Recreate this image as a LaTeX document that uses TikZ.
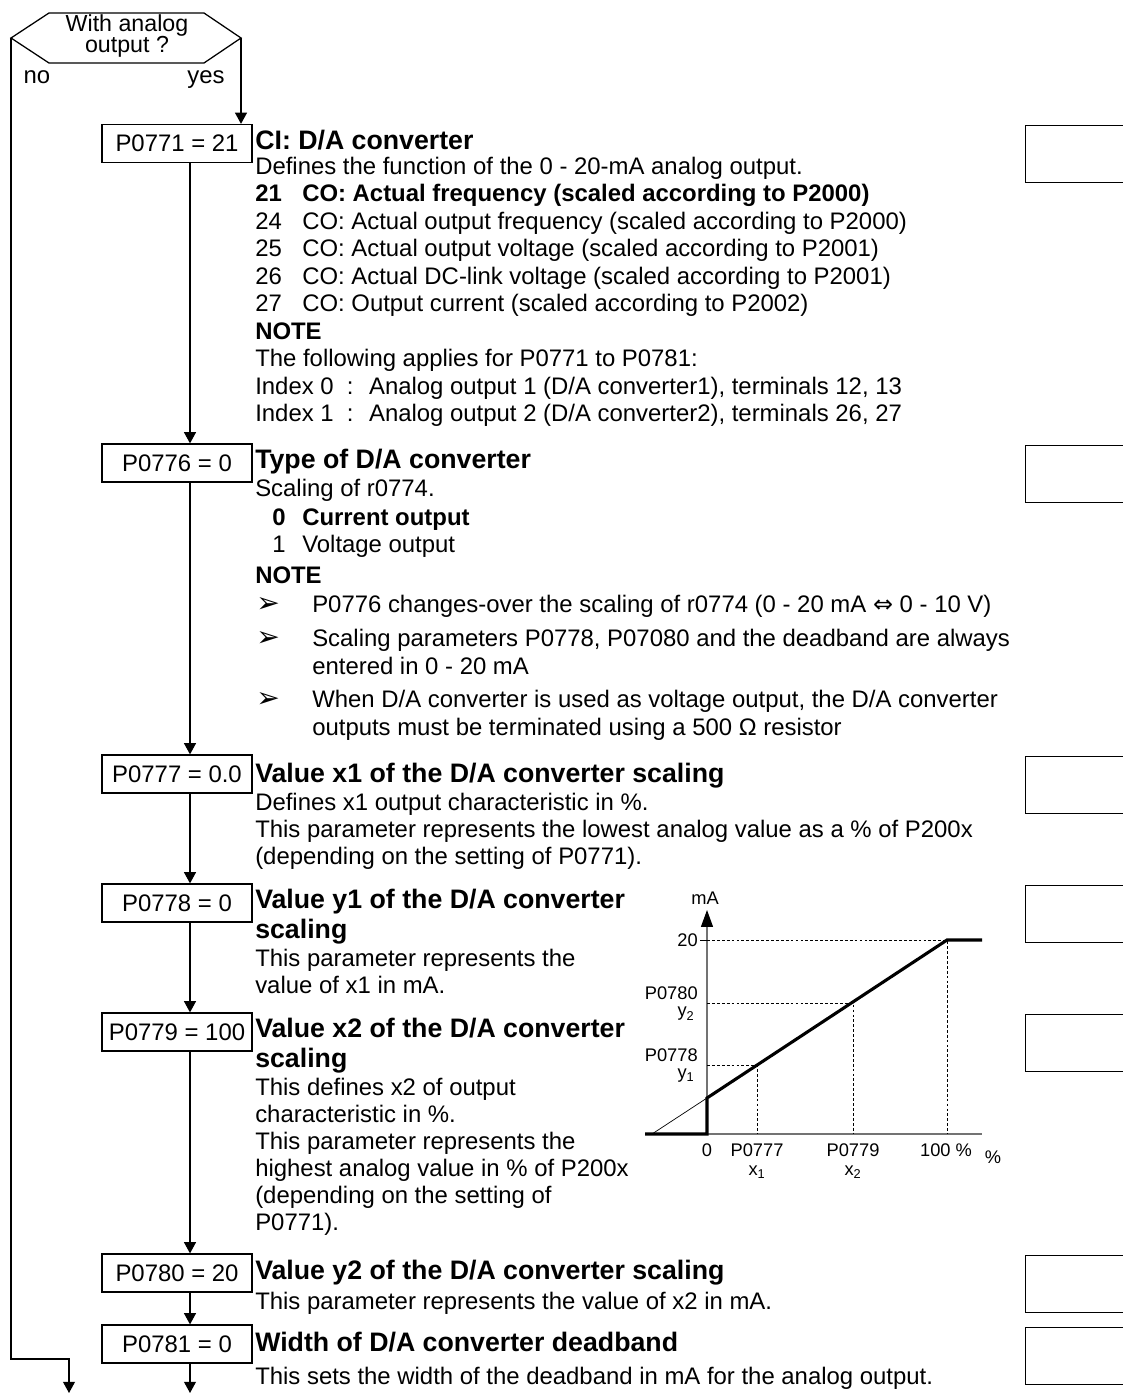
\documentclass[tikz,border=0pt]{standalone}
\usepackage{fontspec}
\setmainfont{Liberation Sans}
\newfontfamily\symfont{DejaVu Sans}
\usetikzlibrary{arrows.meta,positioning,calc}

\tikzset{
  flowline/.style={line width=0.9pt},
  flowarrow/.style={line width=0.9pt, -{Triangle[length=8pt,width=8.5pt]}},
  parbox/.style={draw, line width=0.9pt, minimum width=106.7pt, minimum height=27pt,
    inner sep=0pt, font=\fontsize{17}{20}\selectfont},
  blankbox/.style={draw, line width=0.9pt, minimum width=85pt, minimum height=40.5pt,
    anchor=north west, inner sep=0pt},
  headtxt/.style={anchor=base west, inner sep=0pt, font=\fontsize{19}{23}\selectfont\bfseries},
  bodytxt/.style={anchor=base west, inner sep=0pt, font=\fontsize{17}{20}\selectfont},
  graphtxt/.style={inner sep=0pt, font=\fontsize{13}{15}\selectfont},
  guide/.style={line width=0.5pt, dash pattern=on 2pt off 1.5pt},
  axisline/.style={line width=0.8pt, black!55},
}

\begin{document}
\begin{tikzpicture}[x=0.025cm, y=-0.025cm]
    \useasboundingbox (0,0) rectangle (1123,1394);

    % decision
    \coordinate (decL) at (11,38);
    \coordinate (decR) at (241,38);
    \draw[flowline] (decL) -- (49,13) -- (204,13) -- (decR) -- (204,63) -- (49,63) -- cycle;
    \node[align=center, inner sep=0pt, font=\fontsize{16.5}{15.6}\selectfont] (dec) at (127,36) {With analog\\output ?};
    \node[bodytxt, anchor=base] (no) at (37,83) {no};
    \node[bodytxt, anchor=base] (yes) at (206,83) {yes};

    % parameter boxes
    \node[parbox] (p0771) at (177,143.5) {P0771 = 21};
    \node[parbox] (p0776) at (177,463) {P0776 = 0};
    \node[parbox] (p0777) at (177,774) {P0777 = 0.0};
    \node[parbox] (p0778) at (177,903) {P0778 = 0};
    \node[parbox] (p0779) at (177,1032) {P0779 = 100};
    \node[parbox] (p0780) at (177,1273) {P0780 = 20};
    \node[parbox] (p0781) at (177,1344) {P0781 = 0};

    % empty boxes on the right
    \foreach \yy [count=\i] in {125,445,756,885,1014,1255,1327}
        \node[blankbox] (r\i) at (1025,\yy) {};

    % connectors
    \coordinate (col) at (190,0);
    \draw[flowarrow] (decR) -- (decR |- p0771.north);
    \foreach \a/\b in {p0771/p0776,p0776/p0777,p0777/p0778,p0778/p0779,p0779/p0780,p0780/p0781}
        \draw[flowarrow] (\a.south -| col) -- (\b.north -| col);
    \coordinate (outend) at (190,1393);
    \draw[flowarrow] (p0781.south -| col) -- (outend);
    \coordinate (noturn) at (11,1359);
    \coordinate (noend) at (69,1393);
    \draw[flowarrow] (decL) -- (noturn) -| (noend);

    % P0771
    \node[headtxt] (h0771) at (255,149) {CI: D/A converter};
    \node[bodytxt] (d0771) at (255,174) {Defines the function of the 0 - 20-mA analog output.};
    \node[bodytxt, font=\fontsize{17}{20}\selectfont\bfseries] (n0771-0) at (255,201.5) {21};
    \node[bodytxt, font=\fontsize{17}{20}\selectfont\bfseries] (t0771-0) at (302,201.5) {CO: Actual frequency (scaled according to P2000)};
    \foreach \yy/\num/\txt [count=\i] in {229/24/{CO: Actual output frequency (scaled according to P2000)},
        256.5/25/{CO: Actual output voltage (scaled according to P2001)},
        284/26/{CO: Actual DC-link voltage (scaled according to P2001)},
        311.5/27/{CO: Output current (scaled according to P2002)}} {
        \node[bodytxt] (n0771-\i) at (255,\yy) {\num};
        \node[bodytxt] (t0771-\i) at (302,\yy) {\txt};
    }
    \node[bodytxt, font=\fontsize{17}{20}\selectfont\bfseries] (note0771) at (255,339) {NOTE};
    \node[bodytxt] (f0771) at (255,366.5) {The following applies for P0771 to P0781:};
    \node[bodytxt] (i0771-0) at (255,394) {Index 0 \ : \ Analog output 1 (D/A converter1), terminals 12, 13};
    \node[bodytxt] (i0771-1) at (255,421.5) {Index 1 \ : \ Analog output 2 (D/A converter2), terminals 26, 27};

    % P0776
    \node[headtxt] (h0776) at (255,468) {Type of D/A converter};
    \node[bodytxt] (d0776) at (255,496) {Scaling of r0774.};
    \node[bodytxt, font=\fontsize{17}{20}\selectfont\bfseries] (n0776-0) at (272,525) {0};
    \node[bodytxt, font=\fontsize{17}{20}\selectfont\bfseries] (t0776-0) at (302,525) {Current output};
    \node[bodytxt] (n0776-1) at (272,552) {1};
    \node[bodytxt] (t0776-1) at (302,552) {Voltage output};
    \node[bodytxt, font=\fontsize{17}{20}\selectfont\bfseries] (note0776) at (255,583) {NOTE};
    \foreach \yy [count=\i] in {612,646,707}
        \node[bodytxt, font=\fontsize{20}{20}\selectfont] (b0776-\i) at (256,\yy) {\symfont ➢};
    \node[bodytxt] (l0776-1) at (312,612) {P0776 changes-over the scaling of r0774 (0 - 20 mA {\symfont ⇔} 0 - 10 V)};
    \node[bodytxt] (l0776-2) at (312,646) {Scaling parameters P0778, P07080 and the deadband are always};
    \node[bodytxt] (l0776-3) at (312,674) {entered in 0 - 20 mA};
    \node[bodytxt] (l0776-4) at (312,707) {When D/A converter is used as voltage output, the D/A converter};
    \node[bodytxt] (l0776-5) at (312,735) {outputs must be terminated using a 500 Ω resistor};

    % P0777
    \node[headtxt] (h0777) at (255,782) {Value x1 of the D/A converter scaling};
    \foreach \yy/\txt [count=\i] in {810/{Defines x1 output characteristic in \%.},
        837/{This parameter represents the lowest analog value as a \% of P200x},
        864/{(depending on the setting of P0771).}}
        \node[bodytxt] (l0777-\i) at (255,\yy) {\txt};

    % P0778
    \node[headtxt] (h0778) at (255,908) {Value y1 of the D/A converter};
    \node[headtxt] (h0778b) at (255,938) {scaling};
    \foreach \yy/\txt [count=\i] in {966/{This parameter represents the},
        993/{value of x1 in mA.}}
        \node[bodytxt] (l0778-\i) at (255,\yy) {\txt};

    % P0779
    \node[headtxt] (h0779) at (255,1037) {Value x2 of the D/A converter};
    \node[headtxt] (h0779b) at (255,1067) {scaling};
    \foreach \yy/\txt [count=\i] in {1095/{This defines x2 of output},
        1122/{characteristic in \%.},
        1149/{This parameter represents the},
        1176/{highest analog value in \% of P200x},
        1203/{(depending on the setting of},
        1230/{P0771).}}
        \node[bodytxt] (l0779-\i) at (255,\yy) {\txt};

    % P0780, P0781
    \node[headtxt] (h0780) at (255,1279) {Value y2 of the D/A converter scaling};
    \node[bodytxt] (l0780) at (255,1309) {This parameter represents the value of x2 in mA.};
    \node[headtxt] (h0781) at (255,1351) {Width of D/A converter deadband};
    \node[bodytxt] (l0781) at (255,1384) {This sets the width of the deadband in mA for the analog output.};

    % characteristic
    \draw[axisline] (645,1134) -- (982,1134);
    \draw[axisline, -{Triangle[length=12pt,width=8.5pt,color=black]}] (707,1134) -- (707,910);
    \draw[line width=0.6pt] (700,940) -- (707,940);
    \draw[guide] (707,940) -- (947,940) -- (947,1134);
    \draw[guide] (707,1003) -- (853,1003) -- (853,1134);
    \draw[guide] (707,1065) -- (757,1065) -- (757,1134);
    \draw[line width=0.5pt] (652,1134) -- (707,1098);
    \draw[line width=2.2pt, line join=miter] (645,1134) -- (707,1134) -- (707,1098) -- (947,940) -- (982,940);
    \node[graphtxt] (gmA) at (705,898) {mA};
    \node[graphtxt, anchor=east] (g20) at (698,940) {20};
    \node[graphtxt, anchor=east] (gP0780) at (698,993) {P0780};
    \node[graphtxt] (gy2) at (686,1014) {y\textsubscript{2}};
    \node[graphtxt, anchor=east] (gP0778) at (698,1055) {P0778};
    \node[graphtxt] (gy1) at (686,1076) {y\textsubscript{1}};
    \node[graphtxt] (g0) at (707,1150) {0};
    \node[graphtxt] (gP0777) at (757,1150) {P0777};
    \node[graphtxt] (gx1) at (757,1172) {x\textsubscript{1}};
    \node[graphtxt] (gP0779) at (853,1150) {P0779};
    \node[graphtxt] (gx2) at (853,1172) {x\textsubscript{2}};
    \node[graphtxt] (g100) at (946,1150) {100 \%};
    \node[graphtxt] (gpct) at (993,1157) {\%};
\end{tikzpicture}
\end{document}
